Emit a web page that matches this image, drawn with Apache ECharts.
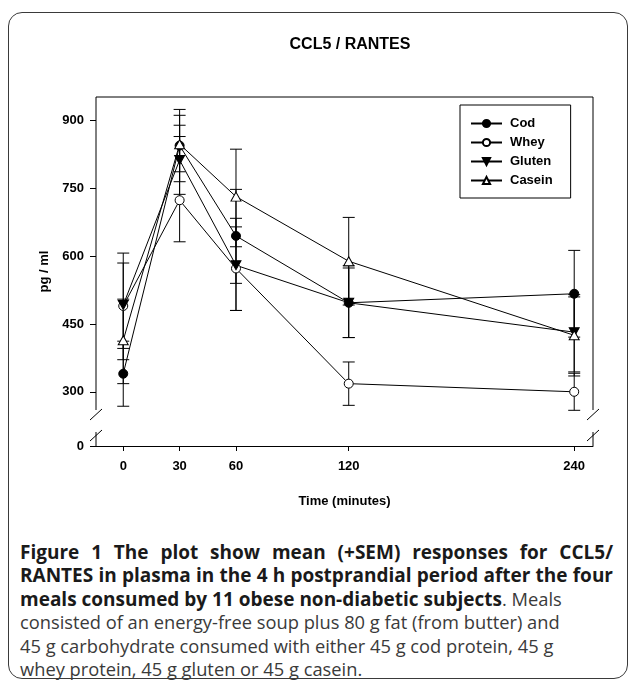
<!DOCTYPE html>
<html>
<head>
<meta charset="utf-8">
<script src="https://cdn.jsdelivr.net/npm/echarts@6.0.0/dist/echarts.min.js"></script>
<style>
  html, body { margin: 0; padding: 0; background: #fff; }
  #frame { position: absolute; left: 8px; top: 12px; width: 620px; height: 667px; border: 1.5px solid #3a3a3a; border-radius: 14px; box-sizing: border-box; }
  #chart { position: absolute; left: 0; top: 0; width: 629px; height: 530px; }
  #caption { position: absolute; left: 20px; top: 540px; width: 593px; font-family: 'Open Sans', sans-serif; font-size: 18.3px; line-height: 23.5px; color: #3a3a3a; white-space: nowrap; }
  #caption div { height: 23.4px; overflow: visible; }
  #caption b { color: #1a1a1a; font-size: 19px; line-height: 1; }
  #caption .j { text-align: justify; text-align-last: justify; }
</style>
</head>
<body>
<div id="frame"></div>
<div id="chart"></div>
<div id="caption">
  <div class="j"><b>Figure 1 The plot show mean (+SEM) responses for CCL5/</b></div>
  <div class="j"><b>RANTES in plasma in the 4 h postprandial period after the four</b></div>
  <div><b>meals consumed by 11 obese non-diabetic subjects</b>. Meals</div>
  <div>consisted of an energy-free soup plus 80 g fat (from butter) and</div>
  <div>45 g carbohydrate consumed with either 45 g cod protein, 45 g</div>
  <div>whey protein, 45 g gluten or 45 g casein.</div>
</div>
<script>
// time points (minutes)
const times = [0, 30, 60, 120, 240];

// means and error bar ends (pg / ml)
const codMean = [340, 845, 645, 497, 517];
const codHigh = [412, 925, 748, 579, 613];
const codLow = [268, 765, 540, 420, 421];

const wheyMean = [490, 724, 573, 318, 300];
const wheyHigh = [607, 865, 665, 366, 341];
const wheyLow = [371, 632, 480, 270, 259];

const glutenMean = [492, 813, 580, 497, 432];
const glutenHigh = [585, 890, 684, 574, 515];
const glutenLow = [396, 737, 480, 420, 344];

const caseinMean = [414, 848, 732, 589, 425];
const caseinHigh = [505, 912, 837, 686, 510];
const caseinLow = [318, 787, 621, 492, 335];

// y axis is broken: the bottom of the axis stands for 0
const yAxisBottom = 180;
const yTicks = [yAxisBottom, 300, 450, 600, 750, 900];

const font = "'Liberation Sans', Arial, sans-serif";
const chart = echarts.init(document.getElementById('chart'));

function meanSeries(name, values, symbol, size, filled) {
  return {
    name: name,
    type: 'line',
    data: times.map((t, i) => [t, values[i]]),
    symbol: symbol,
    symbolSize: size,
    showAllSymbol: true,
    z: 3,
    lineStyle: { color: '#000', width: 1 },
    itemStyle: {
      color: filled ? '#000' : '#fff',
      borderColor: '#000',
      borderWidth: 1
    },
    emphasis: { disabled: true }
  };
}

function errorSeries(high, low) {
  return {
    type: 'custom',
    silent: true,
    z: 2,
    data: times.map((t, i) => [t, high[i], low[i]]),
    renderItem: (params, api) => {
      const top = api.coord([api.value(0), api.value(1)]);
      const bot = api.coord([api.value(0), api.value(2)]);
      const w = 6;
      const style = { stroke: '#000', lineWidth: 1 };
      return {
        type: 'group',
        children: [
          { type: 'line', shape: { x1: top[0], y1: top[1], x2: bot[0], y2: bot[1] }, style: style },
          { type: 'line', shape: { x1: top[0] - w, y1: top[1], x2: top[0] + w, y2: top[1] }, style: style },
          { type: 'line', shape: { x1: bot[0] - w, y1: bot[1], x2: bot[0] + w, y2: bot[1] }, style: style }
        ]
      };
    }
  };
}

// plot frame with the axis breaks
const gl = 96, gr = 593, gt = 97, gb = 446;
const brHi = 410, brLo = 432;
const lineStyle = { stroke: '#000', lineWidth: 1 };
function seg(x1, y1, x2, y2) {
  return { type: 'line', z: 10, silent: true, shape: { x1, y1, x2, y2 }, style: lineStyle };
}
const frame = [
  seg(gl, gt, gr, gt),
  seg(gl, gt, gl, brHi), seg(gl, brLo, gl, gb),
  seg(gr, gt, gr, brHi), seg(gr, brLo, gr, gb),
  seg(gl - 6, brHi + 10, gl + 6, brHi - 1), seg(gl - 6, brLo + 9, gl + 6, brLo - 2),
  seg(gr - 6, brHi + 10, gr + 6, brHi - 1), seg(gr - 6, brLo + 9, gr + 6, brLo - 2)
];

const option = {
  animation: false,
  backgroundColor: 'transparent',
  title: {
    text: 'CCL5 / RANTES',
    left: 345,
    top: 32,
    textAlign: 'center',
    textStyle: { fontFamily: font, fontWeight: 'bold', fontSize: 16, color: '#000' }
  },
  grid: { left: gl, top: gt, width: gr - gl, height: gb - gt },
  legend: {
    orient: 'vertical',
    left: 460,
    top: 105,
    padding: [12, 18, 11, 10],
    itemWidth: 31,
    itemHeight: 9,
    itemGap: 6,
    borderColor: '#000',
    borderWidth: 1,
    selectedMode: false,
    textStyle: { fontFamily: font, fontWeight: 'bold', fontSize: 13, color: '#000', lineHeight: 12, padding: [0, 0, 0, 3] },
    data: ['Cod', 'Whey', 'Gluten', 'Casein']
  },
  xAxis: {
    type: 'value',
    min: -14.5,
    max: 250,
    name: 'Time (minutes)',
    nameLocation: 'middle',
    nameGap: 49,
    nameTextStyle: { fontFamily: font, fontWeight: 'bold', fontSize: 13, color: '#000' },
    axisLine: { show: true, onZero: false, lineStyle: { color: '#000', width: 1 } },
    axisTick: { show: true, length: 5, customValues: times, lineStyle: { color: '#000' } },
    axisLabel: { customValues: times, margin: 14, fontFamily: font, fontWeight: 'bold', fontSize: 13, color: '#000' },
    splitLine: { show: false }
  },
  yAxis: {
    type: 'value',
    min: yAxisBottom,
    max: 952.5,
    name: 'pg / ml',
    nameLocation: 'middle',
    nameGap: 38,
    nameTextStyle: { fontFamily: font, fontWeight: 'bold', fontSize: 13, color: '#000' },
    axisLine: { show: false, onZero: false },
    axisTick: { show: true, length: 6, customValues: yTicks, lineStyle: { color: '#000' } },
    axisLabel: {
      customValues: yTicks,
      margin: 12,
      fontFamily: font, fontWeight: 'bold', fontSize: 13, color: '#000',
      formatter: v => (v === yAxisBottom ? '0' : String(v))
    },
    splitLine: { show: false }
  },
  graphic: frame,
  series: [
    errorSeries(codHigh, codLow),
    errorSeries(wheyHigh, wheyLow),
    errorSeries(glutenHigh, glutenLow),
    errorSeries(caseinHigh, caseinLow),
    meanSeries('Cod', codMean, 'circle', 9, true),
    meanSeries('Whey', wheyMean, 'circle', 9, false),
    meanSeries('Gluten', glutenMean, 'path://M0,0L10,0L5,9Z', [10, 9], true),
    meanSeries('Casein', caseinMean, 'triangle', [10, 9], false)
  ]
};

chart.setOption(option);
</script>
</body>
</html>
